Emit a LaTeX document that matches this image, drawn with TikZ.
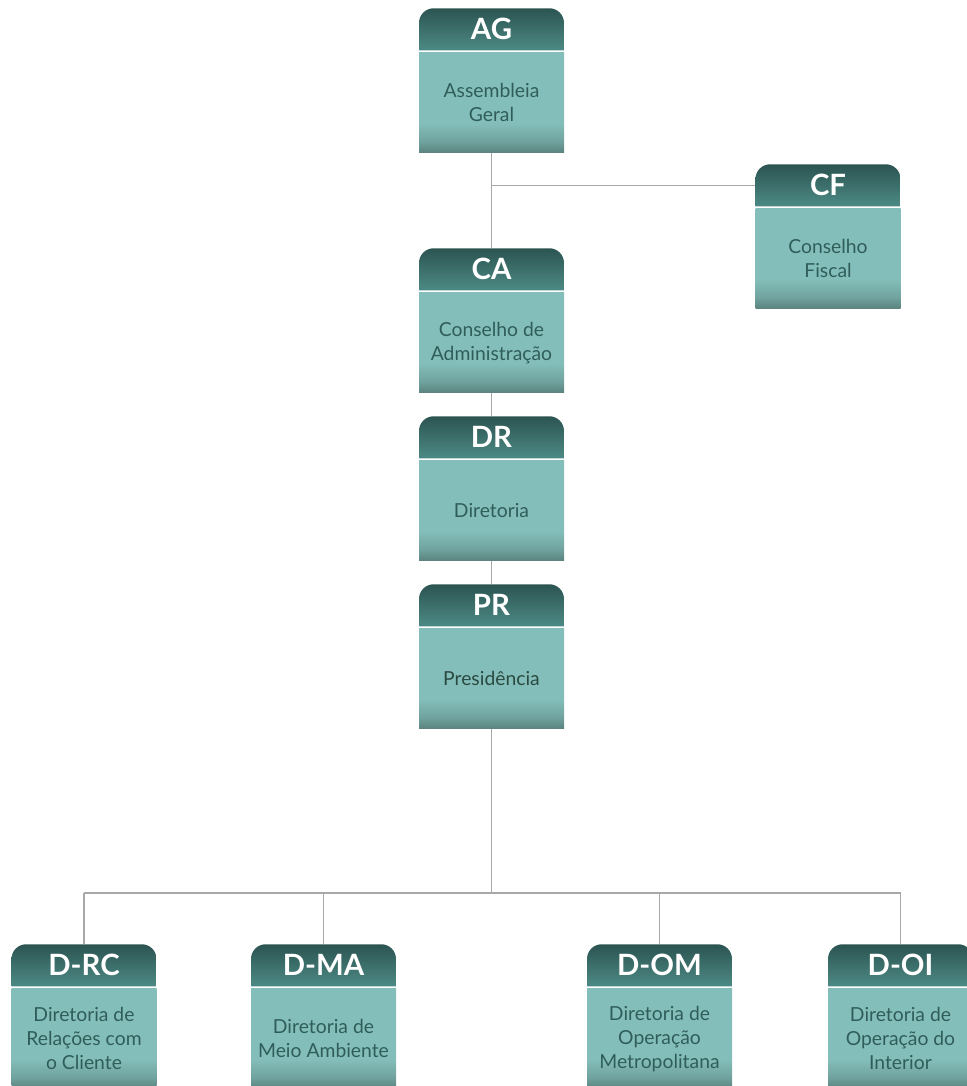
\documentclass[tikz,border=0pt]{standalone}
\usepackage{fontspec}
\setmainfont{Lato}
\usetikzlibrary{positioning}
\definecolor{hdtop}{HTML}{2B5451}
\definecolor{hdlow}{HTML}{4D8A85}
\definecolor{bdcol}{HTML}{84BEBA}
\definecolor{bdlow}{HTML}{5A837F}
\definecolor{bdtext}{HTML}{2F5E5A}
\definecolor{linkcol}{HTML}{A8A8A8}
% body fades to a darker tone at its lower edge (path spans 25bp..75bp)
\pgfdeclareverticalshading{bodyshade}{100bp}{color(0bp)=(bdlow); color(25bp)=(bdlow); color(31bp)=(bdlow!45!bdcol); color(40bp)=(bdcol); color(100bp)=(bdcol)}
\tikzset{
  hdbox/.style={anchor=north, minimum width=108.75pt, minimum height=31.5pt, inner sep=0pt,
    text=white, font=\fontsize{22pt}{24pt}\selectfont\bfseries,
    path picture={\shade[top color=hdtop, bottom color=hdlow]
      (path picture bounding box.south west) [rounded corners=11pt]
      -- (path picture bounding box.north west) -- (path picture bounding box.north east) [sharp corners]
      -- (path picture bounding box.south east) -- cycle;}},
  bdbox/.style={minimum width=108.75pt, minimum height=75pt, inner sep=0pt, shading=bodyshade,
    text=bdtext, align=center, font=\fontsize{14.5pt}{18pt}\selectfont},
  link/.style={draw=linkcol, line width=1.1pt}
}
% one box: name, x, top y, abbreviation, text
\newcommand{\orgbox}[5]{%
  \node[hdbox] (#1h) at (#2,#3) {#4};
  \node[bdbox, below=1.5pt of #1h] (#1b) {#5};
}
\begin{document}
\begin{tikzpicture}[x=0.75pt, y=-0.75pt]
  \useasboundingbox (0,0) rectangle (967,1086);
  \orgbox{ag}{491.5}{8}{AG}{Assembleia\\Geral}
  \orgbox{cf}{828}{164}{CF}{Conselho\\Fiscal}
  \orgbox{ca}{491.5}{248}{CA}{Conselho de\\Administração}
  \orgbox{dr}{491.5}{416}{DR}{Diretoria}
  \orgbox{pr}{491.5}{584}{PR}{\textcolor[HTML]{2A4A40}{Presidência}}
  \orgbox{drc}{84}{944}{D-RC}{Diretoria de\\Relações com\\o Cliente}
  \orgbox{dma}{323.5}{944}{D-MA}{Diretoria de\\Meio Ambiente}
  \orgbox{dom}{659.5}{944}{D-OM}{Diretoria de\\Operação\\Metropolitana}
  \orgbox{doi}{900.5}{944}{D-OI}{Diretoria de\\Operação do\\Interior}
  \coordinate (bus) at (491.5,893);
  \draw[link] (agb.south) -- (cah.north);
  \draw[link] (agb.south |- cfh.west) -- (cfh.west);
  \draw[link] (cab.south) -- (drh.north);
  \draw[link] (drb.south) -- (prh.north);
  \draw[link] (prb.south) -- (bus);
  \draw[link] (drch.north |- bus) -- (doih.north |- bus);
  \foreach \d in {drc,dma,dom,doi}
    \draw[link] (\d h.north |- bus) -- (\d h.north);
\end{tikzpicture}
\end{document}
